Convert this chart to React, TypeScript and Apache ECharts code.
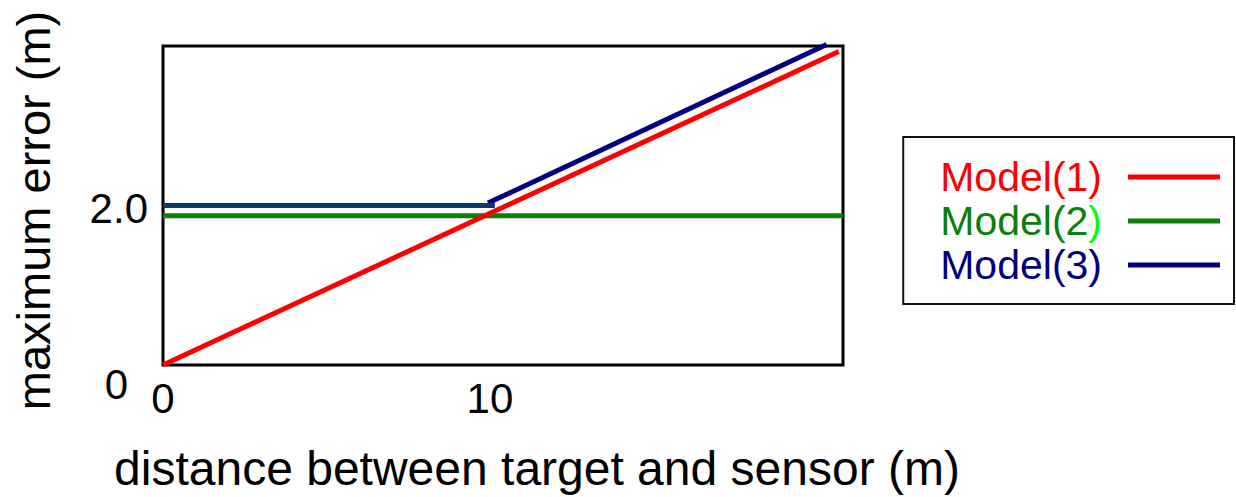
import React, { useEffect, useRef } from "react";
import * as echarts from "echarts";

const FONT = "'Liberation Sans', Arial, sans-serif";

const seriesNames = ["Model(1)", "Model(2)", "Model(3)"];
const seriesColors = ["#ff0000", "#0a800a", "#000080"];
const model3FlatColor = "#0a3a6a";

// [distance (m), maximum error (m)]
const model1: [number, number][] = [
  [0, 0],
  [20.67, 3.93],
];
const model2: [number, number][] = [
  [0, 1.87],
  [20.8, 1.87],
];
const model3Flat: [number, number][] = [
  [0, 2.0],
  [10.15, 2.0],
];
const model3Rise: [number, number][] = [
  [9.94, 2.03],
  [20.3, 4.02],
];

const xTickLabels: Record<number, string> = { 0: "0", 10: "10" };
const yTickLabels: Record<number, string> = { 0: "{z|0}", 2: "{t|2.0}" };

export default function App() {
  const ref = useRef<HTMLDivElement>(null);

  useEffect(() => {
    document.body.style.margin = "0";
    if (!ref.current) return;
    const chart = echarts.init(ref.current, null, { renderer: "svg" });
    const lw = 5;
    chart.setOption({
      animation: false,
      backgroundColor: "#ffffff",
      grid: {
        left: 163,
        top: 46,
        right: 393,
        bottom: 128,
        show: true,
        borderColor: "#000",
        borderWidth: 3,
        backgroundColor: "transparent",
      },
      xAxis: {
        type: "value",
        min: 0,
        max: 20.8,
        interval: 10,
        axisLine: { show: false },
        axisTick: { show: false },
        splitLine: { show: false },
        axisLabel: {
          margin: 12,
          fontSize: 42,
          fontFamily: FONT,
          color: "#000",
          showMaxLabel: false,
          formatter: (v: number) => xTickLabels[v] ?? "",
        },
        name: "distance between target and sensor (m)",
        nameLocation: "middle",
        nameGap: 79,
        nameTextStyle: {
          fontSize: 48,
          fontFamily: FONT,
          color: "#000",
          padding: [0, 0, 0, 68],
        },
      },
      yAxis: {
        type: "value",
        min: 0,
        max: 4,
        interval: 2,
        axisLine: { show: false },
        axisTick: { show: false },
        splitLine: { show: false },
        axisLabel: {
          margin: 15,
          fontSize: 42,
          fontFamily: FONT,
          color: "#000",
          formatter: (v: number) => yTickLabels[v] ?? "",
          rich: {
            z: { fontSize: 42, fontFamily: FONT, color: "#000", padding: [38, 20, 0, 0] },
            t: { fontSize: 42, fontFamily: FONT, color: "#000", padding: [6, 0, 0, 0] },
          },
        },
        name: "maximum error (m)",
        nameLocation: "middle",
        nameGap: 106,
        nameTextStyle: {
          fontSize: 47,
          fontFamily: FONT,
          color: "#000",
          padding: [0, 10, 0, 0],
        },
      },
      legend: {
        orient: "vertical",
        right: 2,
        top: 137,
        padding: [18, 14, 17, 37],
        borderColor: "#111",
        borderWidth: 2,
        itemGap: 0,
        itemWidth: 92,
        itemHeight: 5,
        icon: "rect",
        align: "right",
        selectedMode: false,
        textStyle: {
          fontSize: 41,
          lineHeight: 44,
          fontFamily: FONT,
          padding: [0, 21, 0, 0],
          rich: {
            g: { fontSize: 41, lineHeight: 44, fontFamily: FONT, color: "#0a800a" },
            l: { fontSize: 41, lineHeight: 44, fontFamily: FONT, color: "#00ff00" },
          },
        },
        formatter: (name: string) =>
          name === "Model(2)" ? "{g|Model(2}{l|)}" : name,
        data: seriesNames.map((n, i) => ({
          name: n,
          itemStyle: { color: seriesColors[i] },
          textStyle: { color: seriesColors[i] },
        })),
      },
      series: [
        {
          name: "Model(1)",
          type: "line",
          data: model1,
          showSymbol: false,
          symbol: "none",
          clip: false,
          color: seriesColors[0],
          lineStyle: { color: seriesColors[0], width: lw },
          z: 4,
        },
        {
          name: "Model(2)",
          type: "line",
          data: model2,
          showSymbol: false,
          symbol: "none",
          color: seriesColors[1],
          lineStyle: { color: seriesColors[1], width: lw },
          z: 2,
        },
        {
          name: "Model(3)",
          type: "line",
          data: model3Rise,
          showSymbol: false,
          symbol: "none",
          clip: false,
          color: seriesColors[2],
          lineStyle: { color: seriesColors[2], width: lw },
          z: 3,
        },
        {
          name: "Model(3)",
          type: "line",
          data: model3Flat,
          showSymbol: false,
          symbol: "none",
          color: model3FlatColor,
          lineStyle: { color: model3FlatColor, width: lw },
          z: 3,
        },
      ],
    });
    return () => chart.dispose();
  }, []);

  return <div ref={ref} style={{ width: 1236, height: 497 }} />;
}
